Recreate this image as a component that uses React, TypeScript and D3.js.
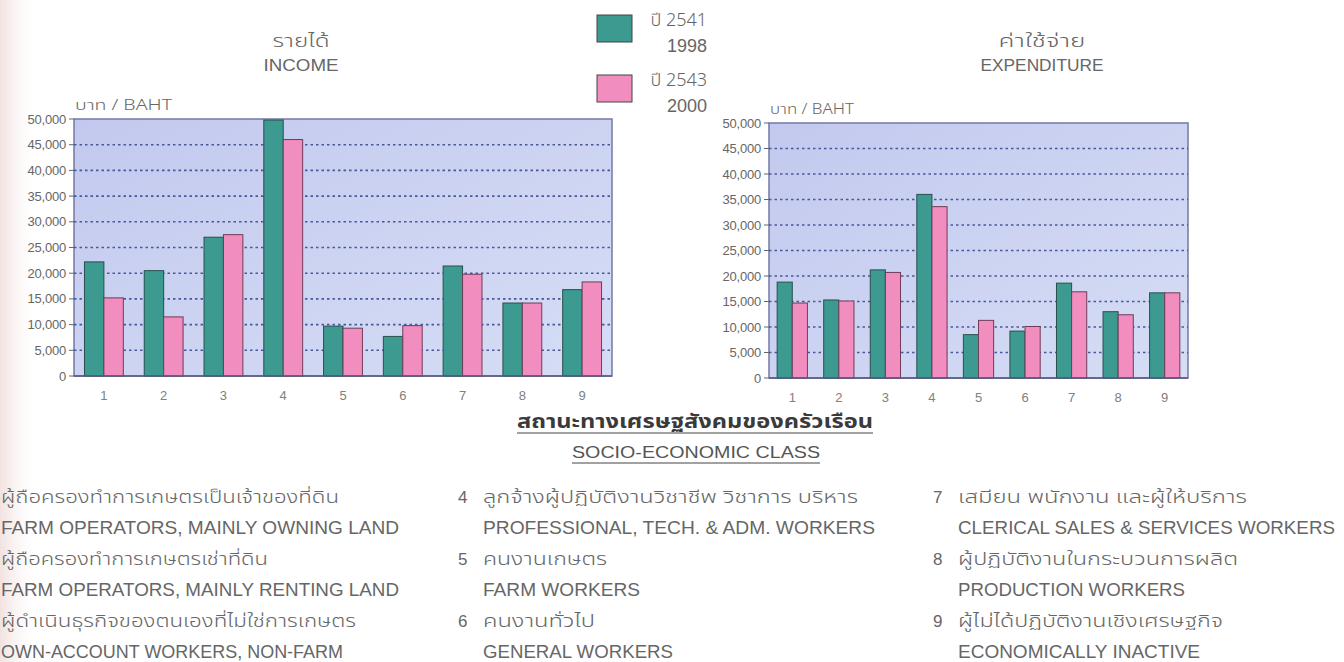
import React from 'react';
import * as d3 from 'd3';

const categories = ['1', '2', '3', '4', '5', '6', '7', '8', '9'];
const yTicks = [0, 5000, 10000, 15000, 20000, 25000, 30000, 35000, 40000, 45000, 50000];

// income (baht)
const income1998 = [22200, 20500, 27000, 49800, 9700, 7700, 21400, 14200, 16800];
const income2000 = [15200, 11500, 27500, 46000, 9300, 9800, 19800, 14200, 18300];
// expenditure (baht)
const expend1998 = [18800, 15300, 21200, 36000, 8500, 9200, 18600, 13000, 16700];
const expend2000 = [14700, 15100, 20700, 33600, 11300, 10100, 16900, 12400, 16700];

const seriesNames = [
  { th: 'ปี 2541', en: '1998' },
  { th: 'ปี 2543', en: '2000' },
];

const classThai = [
  'ผู้ถือครองทำการเกษตรเป็นเจ้าของที่ดิน',
  'ผู้ถือครองทำการเกษตรเช่าที่ดิน',
  'ผู้ดำเนินธุรกิจของตนเองที่ไม่ใช่การเกษตร',
  'ลูกจ้างผู้ปฏิบัติงานวิชาชีพ วิชาการ บริหาร',
  'คนงานเกษตร',
  'คนงานทั่วไป',
  'เสมียน พนักงาน และผู้ให้บริการ',
  'ผู้ปฏิบัติงานในกระบวนการผลิต',
  'ผู้ไม่ได้ปฏิบัติงานเชิงเศรษฐกิจ',
];
const classEng = [
  'FARM OPERATORS, MAINLY OWNING LAND',
  'FARM OPERATORS, MAINLY RENTING LAND',
  'OWN-ACCOUNT WORKERS, NON-FARM',
  'PROFESSIONAL, TECH. & ADM. WORKERS',
  'FARM WORKERS',
  'GENERAL WORKERS',
  'CLERICAL SALES & SERVICES WORKERS',
  'PRODUCTION WORKERS',
  'ECONOMICALLY INACTIVE',
];

// layout: widths the list lines take up in the picture
const thaiWidths = [338, 267, 355, 375, 124, 112, 289, 280, 265];
const engWidths = [398, 398, 342, 392, 157, 190, 377, 227, 242];

const TEAL = '#3c9a91';
const PINK = '#f28dc0';
const TEXT = '#666';
const LATIN = '"Liberation Sans", Arial, sans-serif';
const THAI = '"Noto Sans Thai", "Noto Sans Thai UI", Loma, Garuda, "Tlwg Typo", Waree, "DejaVu Sans", sans-serif';

interface ChartProps {
  left: number
  right: number
  top: number
  bottom: number
  a: number[]
  b: number[]
  titleTh: string
  titleEn: string
  titleX: number
  thW: number
  enW: number
  unitW: number
  gid: string
}

const BarChart: React.FC<ChartProps> = ({ left, right, top, bottom, a, b, titleTh, titleEn, titleX, thW, enW, unitW, gid }) => {
  const y = d3.scaleLinear().domain([0, 50000]).range([bottom, top]);
  const x = d3.scaleBand<string>().domain(categories).range([left, right]).paddingInner(0.35).paddingOuter(0.175);
  const x1 = d3.scaleBand<string>().domain(['a', 'b']).range([0, x.bandwidth()]);
  const fmt = d3.format(',');

  return (
    <g>
      <text x={titleX} y={47} textAnchor="middle" fontFamily={THAI} fontSize={17} fontWeight={300} fill={TEXT}
        textLength={thW} lengthAdjust="spacingAndGlyphs">{titleTh}</text>
      <text x={titleX} y={71} textAnchor="middle" fontFamily={LATIN} fontSize={17} fill={TEXT}
        textLength={enW} lengthAdjust="spacingAndGlyphs">{titleEn}</text>
      <text x={left + 1} y={top - 9} fontFamily={THAI} fontSize={14} fontWeight={300} fill={TEXT}
        textLength={unitW} lengthAdjust="spacingAndGlyphs">บาท / BAHT</text>

      <defs>
        <linearGradient id={gid} x1="0" x2="1" y1="0" y2="1">
          <stop offset="0" stopColor="#c3c9ee" />
          <stop offset="1" stopColor="#d6ddf5" />
        </linearGradient>
      </defs>
      <rect x={left} y={top} width={right - left} height={bottom - top} fill={`url(#${gid})`} stroke="#7478a6" strokeWidth={1.5} />

      {yTicks.filter(t => t > 0 && t < 50000).map(t => (
        <line key={t} x1={left} x2={right} y1={y(t)} y2={y(t)} stroke="#48599b" strokeWidth={1.6} strokeDasharray="2.5,3" />
      ))}
      {yTicks.map(t => (
        <g key={t}>
          <line x1={left - 5} x2={left} y1={y(t)} y2={y(t)} stroke="#666" strokeWidth={1} />
          <text x={left - 8} y={y(t)} dy="0.35em" textAnchor="end" fontFamily={LATIN} fontSize={13} fill={TEXT} letterSpacing={-0.2}>{fmt(t)}</text>
        </g>
      ))}

      {categories.map((c, i) => (
        <g key={c} transform={`translate(${x(c)},0)`}>
          <rect x={x1('a')} y={y(a[i])} width={x1.bandwidth()} height={bottom - y(a[i])} fill={TEAL} stroke="#27504c" strokeWidth={1} />
          <rect x={x1('b')} y={y(b[i])} width={x1.bandwidth()} height={bottom - y(b[i])} fill={PINK} stroke="#6e3d55" strokeWidth={1} />
        </g>
      ))}
      <line x1={left} x2={right} y1={bottom} y2={bottom} stroke="#555a80" strokeWidth={1.5} />

      {categories.map(c => (
        <text key={c} x={(x(c) || 0) + x.bandwidth() / 2} y={bottom + 24} textAnchor="middle" fontFamily={LATIN} fontSize={13} fill="#808080">{c}</text>
      ))}
    </g>
  );
};

const listCols = [
  { numX: null, textX: 1, items: [0, 1, 2] },
  { numX: 458, textX: 483, items: [3, 4, 5] },
  { numX: 933, textX: 958, items: [6, 7, 8] },
];
const rowY = [503, 534, 565, 596, 627, 658];

const App: React.FC = () => {
  return (
    <div style={{ position: 'fixed', left: 0, top: 0, width: 1344, height: 662, background: '#fff' }}>
      <svg width={1344} height={662} style={{ display: 'block' }}>
        <defs>
          <linearGradient id="paper" x1="0" x2="1" y1="0" y2="0">
            <stop offset="0" stopColor="#f1e2e0" />
            <stop offset="1" stopColor="#ffffff" stopOpacity={0} />
          </linearGradient>
        </defs>
        <rect x={0} y={0} width={40} height={662} fill="url(#paper)" />

        <BarChart left={74} right={612} top={119} bottom={376} a={income1998} b={income2000}
          titleTh="รายได้" titleEn="INCOME" titleX={301} thW={57} enW={75} unitW={97} gid="bgL" />
        <BarChart left={769} right={1188} top={123} bottom={378} a={expend1998} b={expend2000}
          titleTh="ค่าใช้จ่าย" titleEn="EXPENDITURE" titleX={1042} thW={87} enW={123} unitW={84} gid="bgR" />

        {/* legend */}
        {seriesNames.map((s, i) => (
          <g key={s.en} transform={`translate(597,${15 + i * 60})`}>
            <rect x={0} y={0} width={35} height={27} fill={i === 0 ? TEAL : PINK} stroke="#444" strokeWidth={1} />
            <text x={110} y={11} textAnchor="end" fontFamily={THAI} fontSize={18} fontWeight={300} fill={TEXT}>{s.th}</text>
            <text x={110} y={37} textAnchor="end" fontFamily={LATIN} fontSize={18} fill={TEXT}>{s.en}</text>
          </g>
        ))}

        {/* axis title */}
        <text x={695} y={428} textAnchor="middle" fontFamily={THAI} fontSize={19} fontWeight="bold" fill="#3a3a3a"
          textLength={356} lengthAdjust="spacingAndGlyphs">สถานะทางเศรษฐสังคมของครัวเรือน</text>
        <line x1={517} x2={873} y1={433} y2={433} stroke="#444" strokeWidth={1} />
        <text x={696} y={458} textAnchor="middle" fontFamily={LATIN} fontSize={17} fill="#555"
          textLength={248} lengthAdjust="spacingAndGlyphs">SOCIO-ECONOMIC CLASS</text>
        <line x1={572} x2={820} y1={463} y2={463} stroke="#444" strokeWidth={1} />

        {/* category list */}
        {listCols.map(col => col.items.map((k, j) => (
          <g key={k}>
            {col.numX !== null && (
              <text x={col.numX} y={rowY[j * 2]} fontFamily={LATIN} fontSize={17} fill={TEXT}>{categories[k]}</text>
            )}
            <text x={col.textX} y={rowY[j * 2]} fontFamily={THAI} fontSize={17} fontWeight={300} fill={TEXT}
              textLength={thaiWidths[k]} lengthAdjust="spacingAndGlyphs">{classThai[k]}</text>
            <text x={col.textX} y={rowY[j * 2 + 1]} fontFamily={LATIN} fontSize={18} fill={TEXT}
              textLength={engWidths[k]} lengthAdjust="spacingAndGlyphs">{classEng[k]}</text>
          </g>
        )))}
      </svg>
    </div>
  );
};

export default App;
